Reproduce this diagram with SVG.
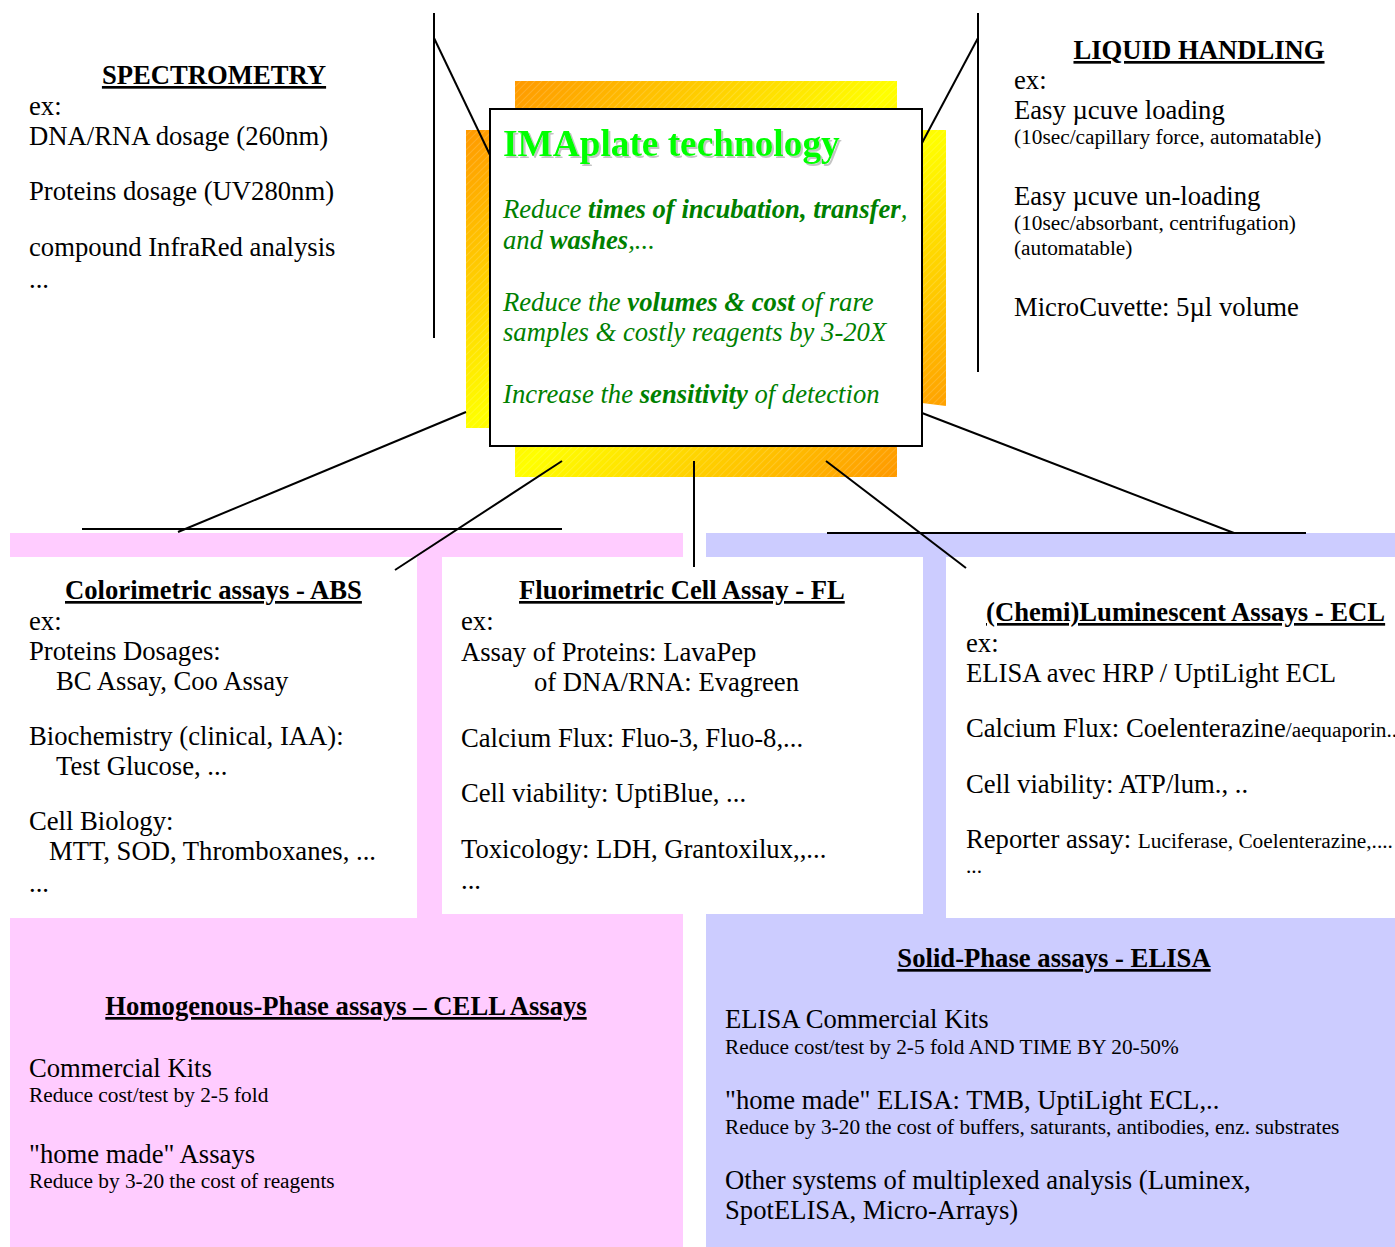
<svg xmlns="http://www.w3.org/2000/svg" width="1395" height="1247" viewBox="0 0 1395 1247">
<style>
text{font-family:"Liberation Serif","Times New Roman",serif;fill:#000;font-size:26.67px}
.h{font-weight:bold;text-decoration:underline}
.s{font-size:21.33px}
.g{fill:#008000;font-style:italic;font-size:26.67px}
.b{font-weight:bold}
.ln{stroke:#000;stroke-width:2;fill:none}
</style>
<defs>
<linearGradient id="og" x1="0" y1="0" x2="1" y2="1">
<stop offset="0" stop-color="#FF9900"/>
<stop offset="0.5" stop-color="#FFFF00"/>
<stop offset="1" stop-color="#FF9900"/>
</linearGradient>
<pattern id="hatch" width="5" height="5" patternUnits="userSpaceOnUse" patternTransform="rotate(45)">
<line x1="0" y1="0" x2="0" y2="5" stroke="#fff" stroke-width="1" stroke-opacity="0.3"/>
</pattern>
<filter id="sh" x="-5%" y="-20%" width="110%" height="140%">
<feDropShadow dx="2" dy="2" stdDeviation="0.6" flood-color="#888" flood-opacity="0.5"/>
</filter>
</defs>

<g id="backgrounds">
<rect x="10" y="533" width="673" height="714" fill="#FFCCFF"/>
<rect x="706" y="533" width="689" height="714" fill="#CCCCFF"/>
</g>

<g id="spectrometry">
<text class="h" x="214" y="84" text-anchor="middle">SPECTROMETRY</text>
<text x="29" y="115">ex:</text>
<text x="29" y="145">DNA/RNA dosage (260nm)</text>
<text x="29" y="200">Proteins dosage (UV280nm)</text>
<text x="29" y="256">compound InfraRed analysis</text>
<text x="29" y="288">...</text>
</g>

<g id="liquid-handling">
<text class="h" x="1199" y="59" text-anchor="middle">LIQUID HANDLING</text>
<text x="1014" y="89">ex:</text>
<text x="1014" y="119">Easy µcuve loading</text>
<text class="s" x="1014" y="144">(10sec/capillary force, automatable)</text>
<text x="1014" y="205">Easy µcuve un-loading</text>
<text class="s" x="1014" y="230">(10sec/absorbant, centrifugation)</text>
<text class="s" x="1014" y="255">(automatable)</text>
<text x="1014" y="316">MicroCuvette: 5µl volume</text>
</g>

<g id="imaplate">
<rect x="515" y="81" width="382" height="396" fill="url(#og)"/>
<rect x="515" y="81" width="382" height="396" fill="url(#hatch)"/>
<path d="M466,130 H946 V406 L922,403 V428 H466 Z" fill="url(#og)"/>
<path d="M466,130 H946 V406 L922,403 V428 H466 Z" fill="url(#hatch)"/>
<rect x="490" y="109" width="432" height="337" fill="#fff" stroke="#000" stroke-width="2"/>
<text x="503" y="156" class="b" style="font-size:37.3px;fill:#00FF00" filter="url(#sh)">IMAplate technology</text>
<text class="g" x="503" y="218">Reduce <tspan class="b">times of incubation, transfer</tspan>,</text>
<text class="g" x="503" y="249">and <tspan class="b">washes</tspan>,...</text>
<text class="g" x="503" y="311">Reduce the <tspan class="b">volumes &amp; cost</tspan> of rare</text>
<text class="g" x="503" y="341">samples &amp; costly reagents by 3-20X</text>
<text class="g" x="503" y="403">Increase the <tspan class="b">sensitivity</tspan> of detection</text>
</g>

<g id="colorimetric">
<rect x="0" y="557" width="417" height="361" fill="#fff"/>
<text class="h" x="65" y="599">Colorimetric assays - ABS</text>
<text x="29" y="630">ex:</text>
<text x="29" y="660">Proteins Dosages:</text>
<text x="56" y="690">BC Assay, Coo Assay</text>
<text x="29" y="745">Biochemistry (clinical, IAA):</text>
<text x="56" y="775">Test Glucose, ...</text>
<text x="29" y="830">Cell Biology:</text>
<text x="49" y="860">MTT, SOD, Thromboxanes, ...</text>
<text x="29" y="892">...</text>
</g>

<g id="fluorimetric">
<rect x="442" y="557" width="481" height="357" fill="#fff"/>
<text class="h" x="519" y="599">Fluorimetric Cell Assay - FL</text>
<text x="461" y="630">ex:</text>
<text x="461" y="661">Assay of Proteins: LavaPep</text>
<text x="534" y="691">of DNA/RNA: Evagreen</text>
<text x="461" y="747">Calcium Flux: Fluo-3, Fluo-8,...</text>
<text x="461" y="802">Cell viability: UptiBlue, ...</text>
<text x="461" y="858">Toxicology: LDH, Grantoxilux,,...</text>
<text x="461" y="889">...</text>
</g>

<g id="luminescent">
<rect x="946" y="557" width="449" height="361" fill="#fff"/>
<text class="h" x="986" y="621">(Chemi)Luminescent Assays - ECL</text>
<text x="966" y="652">ex:</text>
<text x="966" y="682">ELISA avec HRP / UptiLight ECL</text>
<text x="966" y="737">Calcium Flux: Coelenterazine<tspan class="s">/aequaporin..</tspan></text>
<text x="966" y="793">Cell viability: ATP/lum., ..</text>
<text x="966" y="848">Reporter assay: <tspan class="s">Luciferase, Coelenterazine,....</tspan></text>
<text class="s" x="966" y="873">...</text>
</g>

<g id="homogenous">
<text class="h" x="346" y="1015" text-anchor="middle">Homogenous-Phase assays – CELL Assays</text>
<text x="29" y="1077">Commercial Kits</text>
<text class="s" x="29" y="1102">Reduce cost/test by 2-5 fold</text>
<text x="29" y="1163">"home made" Assays</text>
<text class="s" x="29" y="1188">Reduce by 3-20 the cost of reagents</text>
</g>

<g id="solid-phase">
<text class="h" x="1054" y="967" text-anchor="middle">Solid-Phase assays - ELISA</text>
<text x="725" y="1028">ELISA Commercial Kits</text>
<text class="s" x="725" y="1054">Reduce cost/test by 2-5 fold AND TIME BY 20-50%</text>
<text x="725" y="1109">"home made" ELISA: TMB, UptiLight ECL,..</text>
<text class="s" x="725" y="1134">Reduce by 3-20 the cost of buffers, saturants, antibodies, enz. substrates</text>
<text x="725" y="1189">Other systems of multiplexed analysis (Luminex,</text>
<text x="725" y="1219">SpotELISA, Micro-Arrays)</text>
</g>

<g id="connectors" class="ln">
<line x1="434" y1="13" x2="434" y2="338"/>
<line x1="434" y1="38" x2="490" y2="155"/>
<line x1="978" y1="13" x2="978" y2="372"/>
<line x1="978" y1="38" x2="922" y2="143"/>
<line x1="466" y1="412" x2="178" y2="532"/>
<line x1="82" y1="529" x2="562" y2="529"/>
<line x1="562" y1="461" x2="395" y2="570"/>
<line x1="694" y1="461" x2="694" y2="567"/>
<line x1="826" y1="461" x2="966" y2="568"/>
<line x1="827" y1="533" x2="1306" y2="533"/>
<line x1="922" y1="413" x2="1234" y2="533"/>
</g>
</svg>
